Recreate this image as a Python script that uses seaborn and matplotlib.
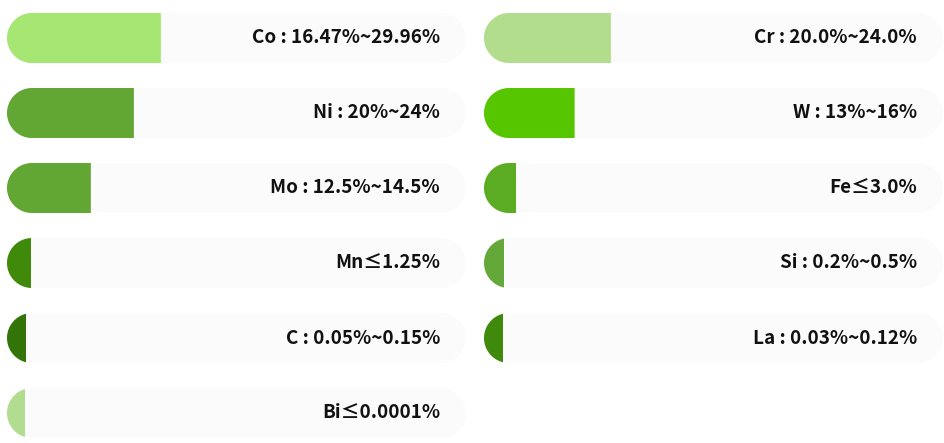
import numpy as np
import pandas as pd
import seaborn as sns
import matplotlib.pyplot as plt
from matplotlib.patches import Polygon, Rectangle

# element content ranges, max value drives bar length
left_labels = ["Co : 16.47%~29.96%", "Ni : 20%~24%", "Mo : 12.5%~14.5%",
               "Mn≤1.25%", "C : 0.05%~0.15%", "Bi≤0.0001%"]
left_values = [29.96, 24, 14.5, 1.25, 0.15, 0.0001]
left_colors = ["#a6e673", "#62a633", "#62a633", "#3f8a0a", "#337408", "#b2dd90"]

right_labels = ["Cr : 20.0%~24.0%", "W : 13%~16%", "Fe≤3.0%",
                "Si : 0.2%~0.5%", "La : 0.03%~0.12%"]
right_values = [24.0, 16, 3.0, 0.5, 0.12]
right_colors = ["#b2dd8d", "#55c600", "#5bac22", "#64a83a", "#3f8a0c"]

track_len = 101.3
cap = 4.0  # minimum length given by the rounded cap

sns.set_theme(style="white")
plt.rcParams['font.family'] = ['Noto Sans CJK KR', 'DejaVu Sans']

fig = plt.figure(figsize=(9.44, 4.43), dpi=100)
W, H = 944, 443


def round_patch(ax, p, both):
    x0, y0, w, h = p.get_x(), p.get_y(), p.get_width(), p.get_height()
    fc = p.get_facecolor()
    p.remove()
    # radius in data units so that the cap looks circular
    px = ax.transData.transform([[0, 0], [1, 1]])
    sx = abs(px[1, 0] - px[0, 0])
    sy = abs(px[1, 1] - px[0, 1])
    ry = h / 2
    rx = ry * sy / sx
    yc = y0 + ry
    t = np.linspace(np.pi / 2, 3 * np.pi / 2, 40)
    pts = list(zip(x0 + rx + rx * np.cos(t), yc + ry * np.sin(t)))
    x1 = max(x0 + w, x0 + 2 * rx)
    if both:
        t2 = np.linspace(-np.pi / 2, np.pi / 2, 40)
        pts += list(zip(x1 - rx + rx * np.cos(t2), yc + ry * np.sin(t2)))
    else:
        pts += [(x1, yc - ry), (x1, yc + ry)]
    poly = Polygon(pts, closed=True, facecolor=fc, edgecolor="none")
    ax.add_patch(poly)
    poly.set_clip_path(Rectangle((x0, y0), w, h, transform=ax.transData))


def column(left_px, labels, values, colors):
    ax = fig.add_axes([left_px / W, 5 / H, 459 / W, 425 / H])
    n = len(labels)
    df = pd.DataFrame({"label": labels,
                       "track": [track_len] * n,
                       "fill": [cap + v for v in values]})
    sns.barplot(data=df, x="track", y="label", orient="h", color="#fbfbfb",
                width=2 / 3, saturation=1, ax=ax)
    sns.barplot(data=df, x="fill", y="label", hue="label", orient="h",
                palette=colors, width=2 / 3, saturation=1, legend=False, ax=ax)
    ax.set_xlim(0, track_len)
    ax.set_ylim(5 + 1 / 3, -1 / 3)
    ax.axis("off")
    patches = list(ax.patches)
    for i, p in enumerate(patches):
        round_patch(ax, p, both=i < n)
    for i, lab in enumerate(labels):
        ax.text(track_len - 26 * track_len / 459, i, lab, ha="right",
                va="center", fontsize=13.6, fontweight="bold", color="#111111")
    return ax


column(7, left_labels, left_values, left_colors)
column(484, right_labels, right_values, right_colors)

fig.savefig("out.png", dpi=100, facecolor="white")
